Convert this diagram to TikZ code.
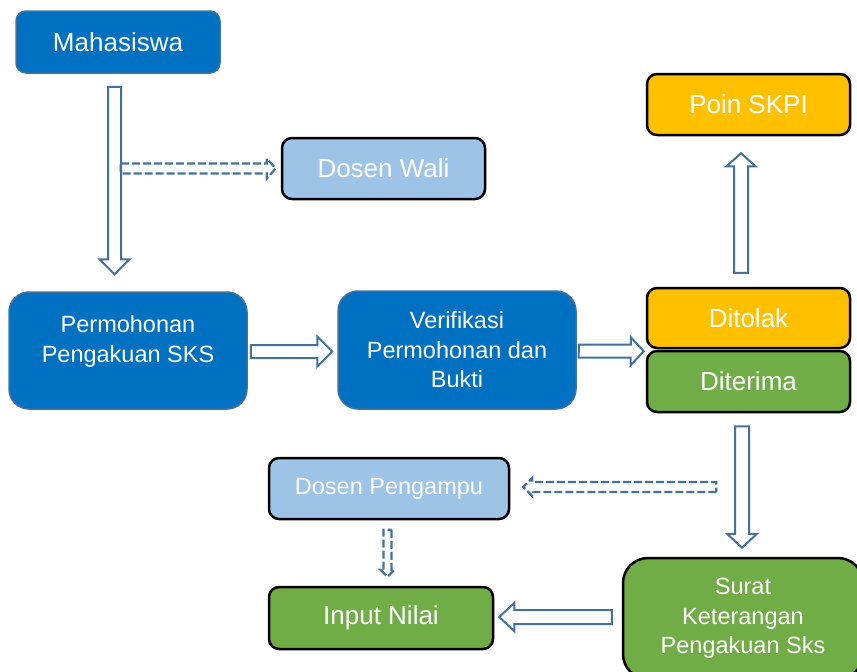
\documentclass[tikz,border=0pt]{standalone}
\usepackage{fontspec}
\setmainfont{Liberation Sans}
\usetikzlibrary{calc}
\definecolor{dblue}{HTML}{0070C0}
\definecolor{lblue}{HTML}{9DC3E6}
\definecolor{gold}{HTML}{FFC000}
\definecolor{grn}{HTML}{70AD47}
\definecolor{aline}{HTML}{41719C}
% #1 style, #2 start, #3 tip, #4 half shaft, #5 half head, #6 head length
\newcommand{\blockarrow}[6][]{%
  \path ($(#3)!#6!(#2)$) coordinate (hb);
  \draw[#1] ($(#2)!#4!90:(#3)$) -- ($(hb)!#4!90:(#3)$) -- ($(hb)!#5!90:(#3)$) -- (#3)
    -- ($(hb)!#5!-90:(#3)$) -- ($(hb)!#4!-90:(#3)$) -- ($(#2)!#4!-90:(#3)$) -- cycle;}
\tikzset{
  box/.style={rectangle, rounded corners=10pt, text=white, align=center, inner sep=0pt},
  darkbox/.style={box, fill=dblue, draw=aline, line width=1.5pt},
  blackbox/.style={box, draw=black, line width=2.5pt},
  big/.style={font=\fontsize{26}{30}\selectfont},
  mid/.style={font=\fontsize{23.5}{29.5}\selectfont},
  barrow/.style={draw=aline, fill=white, line width=2pt, line join=miter},
  darrow/.style={draw=aline, line width=2.2pt, dash pattern=on 8pt off 3pt, line join=miter},
}
\begin{document}
\begin{tikzpicture}[x=1pt,y=-1pt]
\useasboundingbox (0,0) rectangle (857,672);
\clip (0,0) rectangle (857,672);
% nodes
\node[darkbox, big, minimum width=204, minimum height=62] (maha) at (118,42) {Mahasiswa};
\node[blackbox, fill=lblue, big, minimum width=203, minimum height=61] (wali) at (383.5,168.5) {Dosen Wali};
\node[darkbox, mid, rounded corners=20pt, minimum width=238, minimum height=117] (perm) at (128,350.5) {Permohonan\\Pengakuan SKS\\[-6pt]\mbox{}};
\node[darkbox, mid, rounded corners=20pt, minimum width=238, minimum height=118] (verif) at (457,350) {Verifikasi\\Permohonan dan\\Bukti};
\node[blackbox, fill=gold, big, minimum width=203, minimum height=61] (poin) at (748.5,104.5) {Poin SKPI};
\node[blackbox, fill=gold, big, minimum width=203, minimum height=60] (tolak) at (748.5,318) {Ditolak};
\node[blackbox, fill=grn, big, minimum width=203, minimum height=61] (terima) at (748.5,381.5) {Diterima};
\node[blackbox, fill=lblue, mid, minimum width=240, minimum height=61] (pengampu) at (389,488.5) {Dosen Pengampu};
\node[blackbox, fill=grn, big, minimum width=224, minimum height=62] (input) at (381,618) {Input Nilai};
\node[blackbox, fill=grn, mid, rounded corners=25pt, minimum width=240, minimum height=121] (surat) at (743,618.5) {Surat\\Keterangan\\Pengakuan Sks};
% connector end points
\coordinate (a1s) at ($(maha.south)+(-3.5,13)$);
\coordinate (a1e) at ($(perm.north)+(-13.5,-17)$);
\coordinate (a2s) at ($(wali.west)+(-160,0)$);
\coordinate (a2e) at ($(wali.west)+(-5,0)$);
\coordinate (a3s) at ($(perm.east)+(3,1)$);
\coordinate (a3e) at ($(verif.west)+(-5,1.5)$);
\coordinate (a4s) at ($(verif.east)+(2,1)$);
\coordinate (a4e) at ($(tolak.south west)+(-2,2)$);
\coordinate (a5s) at ($(tolak.north)+(-7.5,-14)$);
\coordinate (a5e) at ($(poin.south)+(-7.5,17)$);
\coordinate (a6s) at ($(terima.south)+(-6.5,13)$);
\coordinate (a6e) at ($(surat.north)+(-1,-9)$);
\coordinate (a7s) at ($(pengampu.east)+(206,-1.5)$);
\coordinate (a7e) at ($(pengampu.east)+(13,-1.5)$);
\coordinate (a8s) at ($(pengampu.south)+(-1.5,9.5)$);
\coordinate (a8e) at ($(input.north)+(6.5,-9)$);
\coordinate (a9s) at ($(surat.west)+(-10,-1.5)$);
\coordinate (a9e) at ($(input.east)+(5,-1)$);
% connectors
\blockarrow[barrow]{a1s}{a1e}{6.5pt}{15pt}{15pt}
\blockarrow[darrow]{a2s}{a2e}{5pt}{10pt}{9pt}
\blockarrow[barrow]{a3s}{a3e}{6.5pt}{15pt}{15pt}
\blockarrow[barrow]{a4s}{a4e}{6.5pt}{14pt}{13pt}
\blockarrow[barrow]{a5s}{a5e}{7pt}{14.5pt}{13pt}
\blockarrow[barrow]{a6s}{a6e}{7pt}{15pt}{14pt}
\blockarrow[darrow]{a7s}{a7e}{5pt}{9pt}{9pt}
\blockarrow[darrow]{a8s}{a8e}{4pt}{7pt}{7pt}
\blockarrow[barrow]{a9s}{a9e}{7pt}{14pt}{15pt}
\end{tikzpicture}
\end{document}
